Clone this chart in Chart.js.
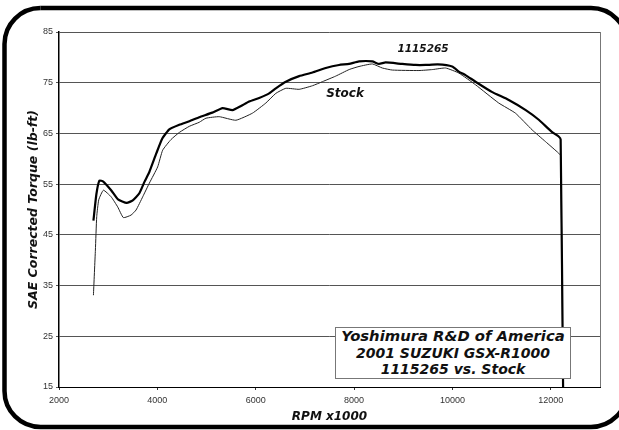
<!DOCTYPE html>
<html>
<head>
<meta charset="utf-8">
<script src="https://cdn.jsdelivr.net/npm/chart.js@4.4.1/dist/chart.umd.min.js"></script>
<style>
    body { margin: 0; background: #fff; overflow: hidden; }
    #wrap { position: relative; width: 619px; height: 430px; overflow: hidden; }
    #torqueChart { position: absolute; left: 0; top: 0; }
    .lbl {
        position: absolute; transform: translate(-50%, -50%);
        font-family: 'DejaVu Sans'; font-weight: bold; font-style: italic;
        color: #111; white-space: nowrap;
    }
    #legende {
        position: absolute; left: 335px; top: 327px; width: 236px; height: 52px;
        box-sizing: border-box; border: 1px solid #777; background: #fff;
        font-family: 'DejaVu Sans'; font-weight: bold; font-style: italic;
        font-size: 14px; line-height: 16.7px; text-align: center; color: #111;
        white-space: nowrap;
    }
</style>
</head>
<body>
<div id="wrap">
    <canvas id="torqueChart" width="619" height="430"></canvas>
    <div class="lbl" style="left:423px; top:48px; font-size:10.5px;">1115265</div>
    <div class="lbl" style="left:345px; top:93px; font-size:12px;">Stock</div>
    <div id="legende"><span style="font-size:14.8px">Yoshimura R&amp;D of America</span><br>2001 SUZUKI GSX-R1000<br>1115265 vs. Stock</div>
</div>
<script>
        // Données (tr/min, couple lb-ft)
        const rpmPipe = [2700, 2760, 2822, 2900, 3060, 3200, 3377, 3500, 3634, 3740, 3837, 3980, 4100, 4243, 4446,
            4650, 4852, 5117, 5325, 5528, 5700, 5867, 6070, 6273, 6409, 6612, 6883, 7152, 7424, 7694, 7898,
            8100, 8371, 8506, 8641, 8979, 9250, 9453, 9700, 9994, 10130, 10265, 10468, 10800, 11145, 11490,
            11755, 12020, 12160, 12200, 12250];
        const torquePipe = [47.8, 53.0, 55.7, 55.5, 53.8, 52.0, 51.3, 51.8, 53.2, 55.5, 57.4, 61.1, 64.0, 65.8, 66.7,
            67.4, 68.2, 69.1, 70.0, 69.6, 70.4, 71.3, 72.0, 72.9, 73.9, 75.2, 76.3, 77.0, 77.9, 78.5, 78.7,
            79.2, 79.2, 78.7, 79.0, 78.7, 78.5, 78.5, 78.6, 78.2, 77.2, 76.5, 75.2, 73.2, 71.6, 69.6,
            67.7, 65.3, 64.4, 63.8, 14.5];

        const rpmStock = [2700, 2740, 2767, 2808, 2903, 3060, 3194, 3309, 3465, 3567, 3702, 3837, 4006, 4108, 4278,
            4447, 4649, 4852, 4988, 5258, 5596, 5934, 6206, 6409, 6612, 6883, 7152, 7355, 7626, 7900, 8100,
            8371, 8574, 8777, 9318, 9600, 9859, 10130, 10468, 10940, 11280, 11620, 11890, 12160, 12200, 12250];
        const torqueStock = [33.1, 42.0, 48.6, 51.9, 53.8, 52.5, 50.5, 48.4, 48.9, 49.9, 52.5, 55.2, 58.4, 61.7, 63.8,
            65.2, 66.4, 67.2, 68.0, 68.3, 67.6, 69.0, 71.0, 72.9, 73.9, 73.7, 74.4, 75.2, 76.3, 77.6, 78.2,
            78.7, 77.9, 77.5, 77.4, 77.6, 77.9, 76.9, 74.6, 71.0, 69.0, 65.7, 63.4, 61.1, 60.6, 14.5];

        const xTicks = [2000, 4000, 6000, 8000, 10000, 12000];
        const yTicks = [15, 25, 35, 45, 55, 65, 75, 85];

        const toPoints = (xs, ys) => xs.map((x, i) => ({ x: x, y: ys[i] }));

        // Cadre arrondi autour de la figure (seulement les parties visibles) + bordure droite du tracé
        const cadrePlot = {
            id: 'cadrePlot',
            beforeDraw(chart) {
                const ctx = chart.ctx;
                const l = 4.5, t = 8, r = 627, b = 427, rad = 36;
                ctx.save();
                ctx.strokeStyle = '#000';
                ctx.lineWidth = 4.5;
                // haut + coin haut droit
                ctx.beginPath();
                ctx.moveTo(l + rad, t);
                ctx.arcTo(r, t, r, b, rad);
                ctx.stroke();
                // coin bas droit + bas + gauche + coin haut gauche
                ctx.beginPath();
                ctx.moveTo(r, b - rad - 1);
                ctx.arcTo(r, b, l, b, rad);
                ctx.arcTo(l, b, l, t, rad);
                ctx.arcTo(l, t, r, t, rad);
                ctx.stroke();
                ctx.restore();
            },
            afterDraw(chart) {
                const { ctx, chartArea: a } = chart;
                ctx.save();
                ctx.strokeStyle = '#777';
                ctx.lineWidth = 1;
                ctx.beginPath();
                ctx.moveTo(Math.round(a.right) + 0.5, a.top);
                ctx.lineTo(Math.round(a.right) + 0.5, a.bottom);
                ctx.stroke();
                ctx.restore();
            }
        };

        const tickFont = { family: "'Liberation Sans', Arial", size: 9 };
        const titleFont = { family: "'DejaVu Sans'", weight: 'bold', style: 'italic' };

        const torqueCtx = document.getElementById('torqueChart').getContext('2d');
        const torqueChart = new Chart(torqueCtx, {
            type: 'line',
            data: {
                datasets: [
                    {
                        label: 'Stock',
                        data: toPoints(rpmStock, torqueStock),
                        borderColor: '#222',
                        borderWidth: 1,
                        pointRadius: 0,
                        tension: 0.15,
                        order: 2
                    },
                    {
                        label: '1115265',
                        data: toPoints(rpmPipe, torquePipe),
                        borderColor: '#000',
                        borderWidth: 2.2,
                        pointRadius: 0,
                        tension: 0.15,
                        order: 1
                    }
                ]
            },
            options: {
                responsive: false,
                animation: false,
                layout: { padding: { top: 32, right: 19, left: 0, bottom: 0 } },
                plugins: {
                    legend: { display: false },
                    tooltip: { enabled: false }
                },
                scales: {
                    x: {
                        type: 'linear',
                        min: 2000,
                        max: 13000,
                        afterBuildTicks: s => { s.ticks = xTicks.map(v => ({ value: v })); },
                        afterFit: s => { s.height = 43; },
                        grid: { drawOnChartArea: false, tickLength: 3, color: '#333' },
                        border: { color: '#000', width: 1 },
                        ticks: { font: tickFont, color: '#333', padding: 5, maxRotation: 0, callback: v => String(v) },
                        title: {
                            display: true,
                            text: 'RPM x1000',
                            font: Object.assign({ size: 12 }, titleFont),
                            color: '#111',
                            padding: { top: 0, bottom: 6 }
                        }
                    },
                    y: {
                        min: 15,
                        max: 85,
                        afterBuildTicks: s => { s.ticks = yTicks.map(v => ({ value: v })); },
                        afterFit: s => { s.width = 59; },
                        grid: { color: '#555', lineWidth: 1, tickLength: 3 },
                        border: { color: '#000', width: 1.5 },
                        ticks: { font: tickFont, color: '#333', padding: 3, callback: v => String(v) },
                        title: {
                            display: true,
                            text: 'SAE Corrected Torque (lb-ft)',
                            font: Object.assign({ size: 12.5 }, titleFont),
                            color: '#111',
                            padding: { top: 26, bottom: 0 }
                        }
                    }
                }
            },
            plugins: [cadrePlot]
        });
</script>
</body>
</html>
